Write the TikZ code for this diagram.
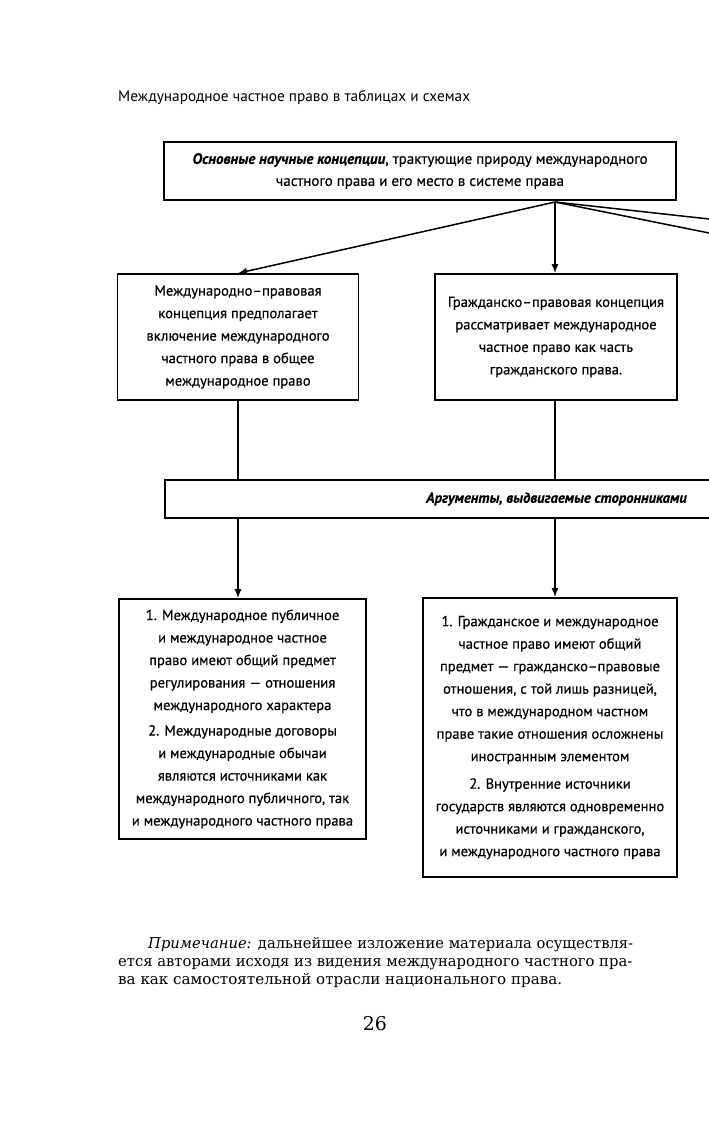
\documentclass[tikz,border=0pt]{standalone}
\usepackage{fontspec}
\setmainfont{PT Sans}[FakeBold=0.35]
\newfontfamily\hdrfont{PT Sans}
\newfontfamily\serifru{DejaVu Serif}
\usetikzlibrary{arrows.meta}
\begin{document}
\begin{tikzpicture}[x=1pt,y=-1pt,
  box/.style={draw, line width=1.6pt, inner sep=0pt, align=center, font=\fontsize{14.6}{22.5}\selectfont},
  arr/.style={line width=1.5pt, -{Latex[length=9pt,width=7pt]}},
  ln/.style={line width=1.5pt},
  note/.style={anchor=base west, inner sep=0pt, font=\serifru\fontsize{15}{18}\selectfont}]
\useasboundingbox (0,0) rectangle (709,1122);
\clip (0,0) rectangle (709,1122);
\fill[white] (0,0) rectangle (709,1122);
\node[anchor=base west, inner sep=0pt, font=\hdrfont\fontsize{15.3}{17}\selectfont] (hdr) at (118,101) {Международное частное право в таблицах и схемах};

\node[box, line width=2.6pt, minimum width=512pt, minimum height=58pt, font=\fontsize{15}{22}\selectfont] (top) at (420,171)
  {\textbf{\textit{Основные научные концепции}}, трактующие природу международного\\ частного права и его место в системе права};

\node[box, minimum width=241pt, minimum height=126pt] (lb) at (238,337)
  {Международно–правовая\\ концепция предполагает\\ включение международного\\ частного права в общее\\ международное право};
\node[box, minimum width=242pt, minimum height=126pt] (cen) at (556,337)
  {Гражданско–правовая концепция\\ рассматривает международное\\ частное право как часть\\ гражданского права.};

\node[box, anchor=west, minimum height=38pt] (arg) at (164,499)
  {\makebox[580pt][r]{\textbf{\textit{Аргументы, выдвигаемые сторонниками}}\kern58pt}};

\node[box, minimum width=247pt, minimum height=240pt] (bl) at (242.5,719)
  {1. Международное публичное\\ и международное частное\\ право имеют общий предмет\\ регулирования — отношения\\ международного характера\\[3pt]
   2. Международные договоры\\ и международные обычаи\\ являются источниками как\\ международного публичного, так\\ и международного частного права};
\node[box, minimum width=254pt, minimum height=279pt] (br) at (550,737.5)
  {1. Гражданское и международное\\ частное право имеют общий\\ предмет — гражданско–правовые\\ отношения, с той лишь разницей,\\ что в международном частном\\ праве такие отношения осложнены\\ иностранным элементом\\[5pt]
   2. Внутренние источники\\ государств являются одновременно\\ источниками и гражданского,\\ и международного частного права};

\coordinate (hub) at (555,202);
\coordinate (r1) at (720,220.2);
\coordinate (r2) at (720,235.2);
\draw[arr] (hub) -- (lb.north);
\draw[arr] (hub) -- (cen.north -| hub);
\draw[ln] (hub) -- (r1);
\draw[ln] (hub) -- (r2);

\draw[ln] (lb.south) -- (lb.south |- arg.north);
\draw[ln] (cen.south -| hub) -- (arg.north -| hub);
\draw[arr] (arg.south -| lb.south) -- (bl.north -| lb.south);
\draw[arr] (arg.south -| hub) -- (br.north -| hub);

\node[note] (n1) at (148,948) {\resizebox{485pt}{\height}{\textit{Примечание:} дальнейшее изложение материала осуществля-}};
\node[note] (n2) at (118,966) {\resizebox{514pt}{\height}{ется авторами исходя из видения международного частного пра-}};
\node[note] (n3) at (118,984) {\resizebox{444pt}{\height}{ва как самостоятельной отрасли национального права.}};
\node[anchor=base, inner sep=0pt, font=\serifru\fontsize{19}{21}\selectfont] (pg) at (375,1030) {26};
\end{tikzpicture}
\end{document}
